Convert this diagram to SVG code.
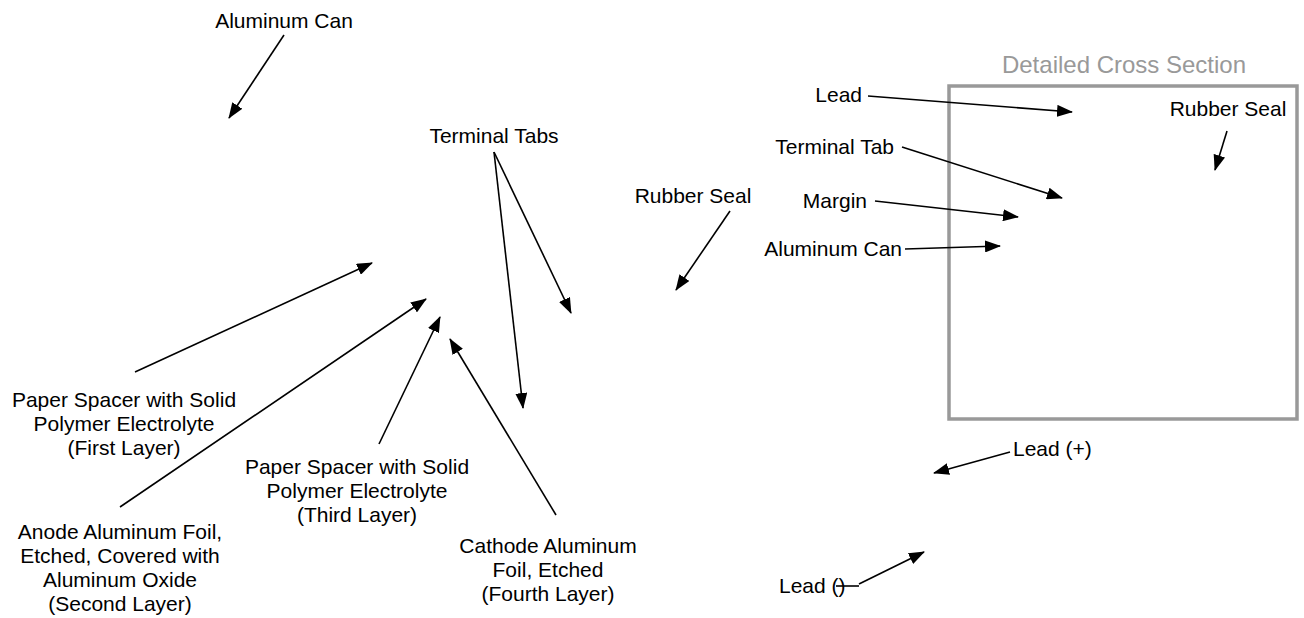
<svg xmlns="http://www.w3.org/2000/svg" width="1304" height="618" viewBox="0 0 1304 618">
<style>
text{font-family:"Liberation Sans",Arial,sans-serif;font-size:21px;fill:#000}
.c{text-anchor:middle}
.e{text-anchor:end}
.t{font-size:24px;fill:#999;text-anchor:middle}
.ln{stroke:#000;stroke-width:1.6;fill:none;marker-end:url(#ah)}
.pl{stroke:#000;stroke-width:1.6;fill:none}
</style>
<defs>
<marker id="ah" markerUnits="userSpaceOnUse" markerWidth="16" markerHeight="12" refX="15" refY="6" orient="auto">
<path d="M0,0 L16,6 L0,12 Z" fill="#000"/>
</marker>
</defs>
<rect width="1304" height="618" fill="#fff"/>
<g id="cross-section">
<rect x="949" y="86" width="348" height="333" fill="none" stroke="#999" stroke-width="3.5"/>
<text class="t" x="1124" y="73">Detailed Cross Section</text>
</g>
<g id="connectors">
<line class="ln" x1="284" y1="35" x2="229" y2="118"/>
<line class="ln" x1="494" y1="152" x2="571" y2="313"/>
<line class="ln" x1="494" y1="152" x2="523" y2="408"/>
<line class="ln" x1="730" y1="211" x2="676" y2="290"/>
<line class="ln" x1="135" y1="372" x2="372" y2="263"/>
<line class="ln" x1="120" y1="507" x2="426" y2="299"/>
<line class="ln" x1="379" y1="444" x2="440" y2="317"/>
<line class="ln" x1="556" y1="515" x2="450" y2="339"/>
<line class="ln" x1="868" y1="96" x2="1072" y2="112"/>
<line class="ln" x1="902" y1="147" x2="1062" y2="198"/>
<line class="ln" x1="875" y1="201" x2="1018" y2="217"/>
<line class="ln" x1="905" y1="249" x2="1000" y2="246"/>
<line class="ln" x1="1227" y1="131" x2="1215" y2="170"/>
<line class="ln" x1="1010" y1="452" x2="934" y2="473"/>
<polyline class="pl" points="836,586 859,586"/>
<line class="ln" x1="859" y1="584" x2="924" y2="552"/>
</g>
<g id="aluminum-can"><text class="c" x="284" y="28">Aluminum Can</text></g>
<g id="terminal-tabs"><text class="c" x="494" y="143">Terminal Tabs</text></g>
<g id="rubber-seal"><text class="c" x="693" y="203">Rubber Seal</text></g>
<g id="paper-first">
<text class="c" x="124" y="407">Paper Spacer with Solid</text>
<text class="c" x="124" y="431">Polymer Electrolyte</text>
<text class="c" x="124" y="455">(First Layer)</text>
</g>
<g id="anode">
<text class="c" x="120" y="539">Anode Aluminum Foil,</text>
<text class="c" x="120" y="563">Etched, Covered with</text>
<text class="c" x="120" y="587">Aluminum Oxide</text>
<text class="c" x="120" y="611">(Second Layer)</text>
</g>
<g id="paper-third">
<text class="c" x="357" y="474">Paper Spacer with Solid</text>
<text class="c" x="357" y="498">Polymer Electrolyte</text>
<text class="c" x="357" y="522">(Third Layer)</text>
</g>
<g id="cathode">
<text class="c" x="548" y="553">Cathode Aluminum</text>
<text class="c" x="548" y="577">Foil, Etched</text>
<text class="c" x="548" y="601">(Fourth Layer)</text>
</g>
<g id="cs-lead"><text class="e" x="862" y="102">Lead</text></g>
<g id="cs-terminal-tab"><text class="e" x="894" y="154">Terminal Tab</text></g>
<g id="cs-margin"><text class="e" x="867" y="208">Margin</text></g>
<g id="cs-aluminum-can"><text class="e" x="902" y="256">Aluminum Can</text></g>
<g id="cs-rubber-seal"><text class="c" x="1228" y="116">Rubber Seal</text></g>
<g id="lead-plus"><text x="1013" y="456">Lead (+)</text></g>
<g id="lead-minus"><text x="779" y="593">Lead ()</text></g>
</svg>
